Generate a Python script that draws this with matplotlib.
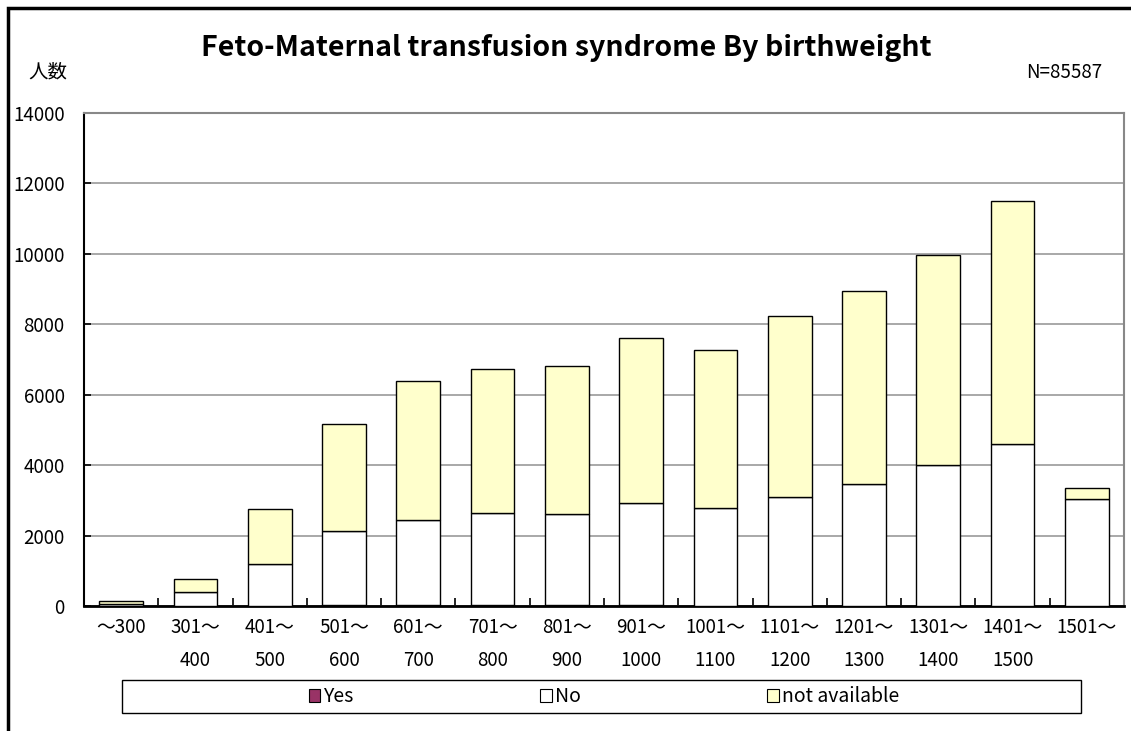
import numpy as np
import matplotlib.pyplot as plt
from matplotlib.patches import Rectangle, Patch

plt.rcParams['font.family'] = ['Noto Sans CJK JP', 'DejaVu Sans']

# Daten
categories = ["～300", "301～\n400", "401～\n500", "501～\n600", "601～\n700",
              "701～\n800", "801～\n900", "901～\n1000", "1001～\n1100",
              "1101～\n1200", "1201～\n1300", "1301～\n1400", "1401～\n1500", "1501～"]
yes = [2, 3, 10, 15, 18, 15, 15, 15, 12, 10, 10, 8, 8, 5]
no = [55, 390, 1185, 2115, 2430, 2640, 2610, 2920, 2760, 3080, 3460, 3985, 4600, 3035]
total = [150, 760, 2755, 5170, 6380, 6730, 6815, 7600, 7280, 8235, 8945, 9960, 11510, 3360]
not_available = [t - y - n for t, y, n in zip(total, yes, no)]

c_yes = "#993366"
c_no = "#FFFFFF"
c_na = "#FFFFCC"

fig = plt.figure(figsize=(11.31, 7.31), dpi=100)
ax = fig.add_axes([84 / 1131, 1 - 606 / 731, 1040 / 1131, 493 / 731])

x = np.arange(len(categories))
w = 0.59
ax.bar(x, yes, w, color=c_yes, edgecolor="black", linewidth=1, zorder=3)
ax.bar(x, no, w, bottom=yes, color=c_no, edgecolor="black", linewidth=1, zorder=3)
ax.bar(x, not_available, w, bottom=np.array(yes) + np.array(no),
       color=c_na, edgecolor="black", linewidth=1, zorder=3)

ax.set_xlim(-0.5, len(categories) - 0.5)
ax.set_ylim(0, 14000)
ax.set_yticks(np.arange(0, 14001, 2000))
ax.yaxis.grid(True, color="#999999", linewidth=1.2, zorder=0)
ax.tick_params(axis="y", direction="in", length=5, width=1.2, pad=14, labelsize=13.5)

# Kategorie-Beschriftungen und Trennstriche
ax.set_xticks(x)
ax.set_xticklabels(categories, fontsize=13.5, linespacing=1.75)
ax.tick_params(axis="x", length=0, pad=8)
ax.set_xticks(np.arange(0.5, len(categories) - 1, 1), minor=True)
ax.tick_params(axis="x", which="minor", direction="in", length=6, width=1.2, color="black")

for s in ["top", "right"]:
    ax.spines[s].set_color("#888888")
    ax.spines[s].set_linewidth(1.5)
ax.spines["left"].set_color("black")
ax.spines["left"].set_linewidth(1.5)
ax.spines["bottom"].set_color("black")
ax.spines["bottom"].set_linewidth(2)

# Titel und Texte
fig.text(566 / 1131, 1 - 48 / 731, "Feto-Maternal transfusion syndrome By birthweight",
         ha="center", va="center", fontsize=20.5, fontweight="bold")
fig.text(48 / 1131, 1 - 72 / 731, "人数", ha="center", va="center", fontsize=14)
fig.text(1102 / 1131, 1 - 72 / 731, "N=85587", ha="right", va="center", fontsize=13.5)

# Legende
fig.patches.append(Rectangle((122 / 1131, 1 - 713 / 731), 959 / 1131, 33 / 731,
                             transform=fig.transFigure, facecolor="white",
                             edgecolor="black", linewidth=1))
handles = [Patch(facecolor=c_yes, edgecolor="black", linewidth=0.8),
           Patch(facecolor=c_no, edgecolor="black", linewidth=0.8),
           Patch(facecolor=c_na, edgecolor="black", linewidth=0.8)]
fig.legend(handles, ["Yes", "No", "not available"], ncol=3, frameon=False,
           loc="center", bbox_to_anchor=(604 / 1131, 1 - 697 / 731),
           handlelength=0.6, handleheight=0.6, handletextpad=0.15,
           columnspacing=9.6, fontsize=14)

# Aeusserer Rahmen
fig.patches.append(Rectangle((8 / 1131, -0.05), 1.2, 1 - 8 / 731 + 0.05,
                             transform=fig.transFigure, fill=False,
                             edgecolor="black", linewidth=2.5))

fig.savefig("out.png", dpi=100)
